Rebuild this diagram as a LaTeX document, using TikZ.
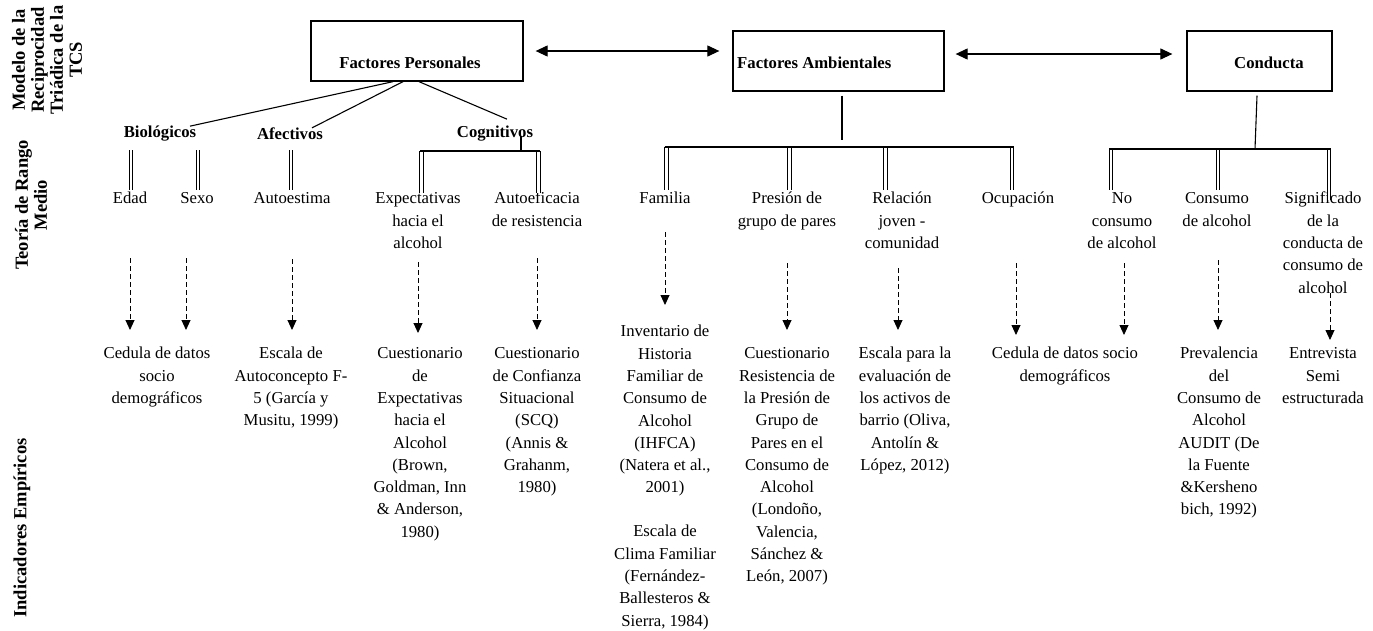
\documentclass[tikz,border=0pt]{standalone}
\usepackage{fontspec}
\setmainfont{Liberation Serif}
\usetikzlibrary{arrows.meta}
\begin{document}
\begin{tikzpicture}[x=1pt,y=-1pt,
  every node/.style={inner sep=0pt},
  txt/.style={anchor=north, align=center, font=\fontsize{16.7}{22.3}\selectfont},
  hd/.style={font=\bfseries\fontsize{16.7}{20}\selectfont},
  side/.style={rotate=90, align=center, font=\bfseries\fontsize{18.5}{19}\selectfont},
  frame/.style={draw, line width=1.3pt, minimum height=60pt},
  conn/.style={line width=1.1pt},
  dbl/.style={double, double distance=2.4pt, line width=0.9pt},
  darr/.style={line width=0.9pt, dash pattern=on 5pt off 3pt, -{Triangle[width=9pt,length=10pt]}},
  biarr/.style={line width=1.2pt, {Triangle[width=11pt,length=12pt]}-{Triangle[width=11pt,length=12pt]}},
]
\fill[white] (0,0) rectangle (1373,630);
\useasboundingbox (0,0) rectangle (1373,630);

% side labels
\node[side] (lm) at (47,60) {Modelo de la\\Reciprocidad\\Triádica de la\\TCS};
\node[side] (lt) at (31,205) {Teoría de Rango\\Medio};
\node[side] (li) at (22,528) {Indicadores Empíricos};

% top boxes
\node[frame, minimum width=212pt] (fp) at (417,51) {};
\node[hd] (fpt) at (410,63) {Factores Personales};
\node[frame, minimum width=211pt] (fa) at (838.5,61) {};
\node[hd, anchor=west] (fat) at (737,63) {Factores Ambientales};
\node[frame, minimum width=145pt] (co) at (1259.5,61) {};
\node[hd] (cot) at (1269,63) {Conducta};

\draw[biarr] ([xshift=12pt]fp.east) -- ([xshift=-13pt]fa.west |- fp.east);
\draw[biarr] ([xshift=11pt,yshift=7pt]fa.east) -- ([xshift=-14pt,yshift=7pt]co.west);

% sub headings
\node[hd] (bio) at (160,134) {Biológicos};
\node[hd] (afe) at (290,134) {Afectivos};
\node[hd] (cog) at (495,134) {Cognitivos};

\draw[conn] ([xshift=-24pt]fp.south) -- ([xshift=30pt]bio.north);
\draw[conn] ([xshift=-14pt]fp.south) -- ([xshift=22pt]afe.north);
\draw[conn] ([xshift=2pt]fp.south) -- ([xshift=12pt,yshift=7pt]cog.north);

% row 1
\node[txt] (edad) at (130,188) {\strut Edad};
\node[txt] (sexo) at (197,188) {\strut Sexo};
\node[txt] (auto) at (292,188) {\strut Autoestima};
\node[txt] (expe) at (418,188) {\strut Expectativas\\hacia el\\alcohol};
\node[txt] (autoef) at (537,188) {\strut Autoeficacia\\de resistencia};
\node[txt] (fam) at (665,188) {\strut Familia};
\node[txt] (pres) at (787,188) {\strut Presión de\\grupo de pares};
\node[txt] (rel) at (902,188) {\strut Relación\\joven -\\comunidad};
\node[txt] (ocu) at (1018,188) {\strut Ocupación};
\node[txt] (noc) at (1122,188) {\strut No\\consumo\\de alcohol};
\node[txt] (cons) at (1217,188) {\strut Consumo\\de alcohol};
\node[txt] (sig) at (1323,188) {\strut Significado\\de la\\conducta de\\consumo de\\alcohol};

% junctions
\coordinate (bJ) at (0,150);
\coordinate (cgJ) at (521,151);
\coordinate (faJ) at (842,147);
\coordinate (coJ) at (1255,149);

% biologicos / afectivos doubles
\draw[dbl] ([xshift=1pt]edad.north |- bJ) -- ([xshift=1pt,yshift=-2pt]edad.north);
\draw[dbl] ([xshift=1pt]sexo.north |- bJ) -- ([xshift=1pt,yshift=-2pt]sexo.north);
\draw[dbl] ([xshift=-1pt]auto.north |- bJ) -- ([xshift=-1pt,yshift=-2pt]auto.north);

% cognitivos
\draw[dbl] ([xshift=3.5pt]expe.north |- cgJ) -- ([xshift=3.5pt,yshift=-5pt]expe.north);
\draw[dbl] ([xshift=1.5pt]autoef.north |- cgJ) -- ([xshift=1.5pt,yshift=-5pt]autoef.north);
\draw[conn] ([xshift=2pt]expe.north |- cgJ) -- ([xshift=3pt]autoef.north |- cgJ);
\draw[conn] ([xshift=26pt,yshift=6pt]cog.south) -- (cgJ);

% ambientales
\draw[conn] ([xshift=3.5pt,yshift=-4pt]fa.south) -- ([yshift=7pt]faJ);
\draw[dbl] ([xshift=1.5pt]fam.north |- faJ) -- ([xshift=1.5pt,yshift=-2pt]fam.north);
\draw[dbl] ([xshift=2.5pt]pres.north |- faJ) -- ([xshift=2.5pt,yshift=-2pt]pres.north);
\draw[dbl] ([xshift=-16.5pt]rel.north |- faJ) -- ([xshift=-16.5pt,yshift=-2pt]rel.north);
\draw[dbl] ([xshift=-6pt]ocu.north |- faJ) -- ([xshift=-6pt,yshift=-2pt]ocu.north);
\draw[conn] ([xshift=-0.3pt]fam.north |- faJ) -- ([xshift=-4.3pt]ocu.north |- faJ);

% conducta
\draw[conn] ([xshift=-2.5pt,yshift=-4pt]co.south) -- (coJ);
\draw[dbl] ([xshift=-11pt]noc.north |- coJ) -- ([xshift=-11pt,yshift=-2pt]noc.north);
\draw[dbl] ([xshift=1pt]cons.north |- coJ) -- ([xshift=1pt,yshift=-2pt]cons.north);
\draw[dbl] ([xshift=6pt]sig.north |- coJ) -- ([xshift=6pt,yshift=-12pt]sig.north);
\draw[conn] ([xshift=-12.7pt]noc.north |- coJ) -- ([xshift=7.7pt]sig.north |- coJ);

% row 2
\node[txt] (ced1) at (157,343) {\strut Cedula de datos\\socio\\demográficos};
\node[txt] (esc) at (291,343) {\strut Escala de\\Autoconcepto F-\\5 (García y\\Musitu, 1999)};
\node[txt] (cexp) at (420,343) {\strut Cuestionario\\de\\Expectativas\\hacia el\\Alcohol\\(Brown,\\Goldman, Inn\\\& Anderson,\\1980)};
\node[txt] (cconf) at (537,343) {\strut Cuestionario\\de Confianza\\Situacional\\(SCQ)\\(Annis \&\\Grahanm,\\1980)};
\node[txt] (inv) at (665,321) {\strut Inventario de\\Historia\\Familiar de\\Consumo de\\Alcohol\\(IHFCA)\\(Natera et al.,\\2001)};
\node[txt] (inv2) at (665,521) {\strut Escala de\\Clima Familiar\\(Fernández-\\Ballesteros \&\\Sierra, 1984)};
\node[txt] (cpres) at (787,343) {\strut Cuestionario\\Resistencia de\\la Presión de\\Grupo de\\Pares en el\\Consumo de\\Alcohol\\(Londoño,\\Valencia,\\Sánchez \&\\León, 2007)};
\node[txt] (escb) at (905,343) {\strut Escala para la\\evaluación de\\los activos de\\barrio (Oliva,\\Antolín \&\\López, 2012)};
\node[txt] (ced2) at (1065,343) {\strut Cedula de datos socio\\demográficos};
\node[txt] (prev) at (1219,343) {\strut Prevalencia\\del\\Consumo de\\Alcohol\\AUDIT (De\\la Fuente\\\&Kersheno\\bich, 1992)};
\node[txt] (entr) at (1323,343) {\strut Entrevista\\Semi\\estructurada};

% dashed arrows
\draw[darr] (edad |- 0,258) -- (edad |- 0,330);
\draw[darr] ([xshift=-11pt]sexo |- 0,258) -- ([xshift=-11pt]sexo |- 0,330);
\draw[darr] (auto |- 0,259) -- (auto |- 0,330);
\draw[darr] (expe |- 0,262) -- (expe |- 0,333);
\draw[darr] (autoef |- 0,258) -- (autoef |- 0,330);
\draw[darr] (fam |- 0,232) -- (fam |- 0,305);
\draw[darr] (pres |- 0,263) -- (pres |- 0,330);
\draw[darr] ([xshift=-4pt]rel |- 0,268) -- ([xshift=-4pt]rel |- 0,330);
\draw[darr] ([xshift=-2pt]ocu |- 0,263) -- ([xshift=-2pt]ocu |- 0,335);
\draw[darr] ([xshift=2pt]noc |- 0,263) -- ([xshift=2pt]noc |- 0,335);
\draw[darr] ([xshift=1pt]cons |- 0,260) -- ([xshift=1pt]cons |- 0,330);
\draw[darr] ([xshift=7pt]sig |- 0,293) -- ([xshift=7pt]sig |- 0,340);
\end{tikzpicture}
\end{document}
